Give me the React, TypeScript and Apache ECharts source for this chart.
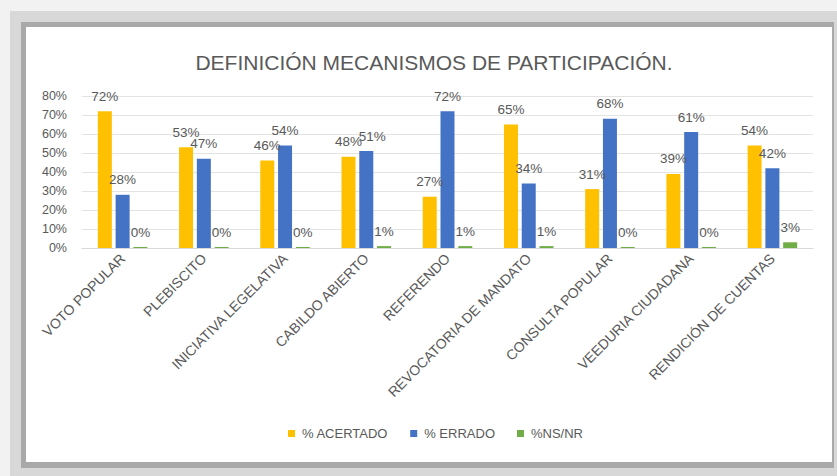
import React, { useEffect, useRef } from "react";
import * as echarts from "echarts";

const categories = [
  "VOTO POPULAR",
  "PLEBISCITO",
  "INICIATIVA LEGELATIVA",
  "CABILDO ABIERTO",
  "REFERENDO",
  "REVOCATORIA DE MANDATO",
  "CONSULTA POPULAR",
  "VEEDURIA CIUDADANA",
  "RENDICIÓN DE CUENTAS",
];
const acertado = [72, 53, 46, 48, 27, 65, 31, 39, 54];
const errado = [28, 47, 54, 51, 72, 34, 68, 61, 42];
const nsnr = [0, 0, 0, 1, 1, 1, 0, 0, 3];
const seriesNames = ["% ACERTADO", "% ERRADO", "%NS/NR"];
const yTicks = { min: 0, max: 80, interval: 10 };

const FONT = "'Liberation Sans', Arial, sans-serif";
const TXT = "#595959";

export default function App() {
  const ref = useRef<HTMLDivElement>(null);
  useEffect(() => {
    if (!ref.current) return;
    const chart = echarts.init(ref.current, null, { renderer: "svg" });
    const label = {
      show: true,
      position: "top" as const,
      distance: 8,
      color: TXT,
      fontSize: 13.5,
      fontFamily: FONT,
      formatter: (p: any) => `${Math.round(p.value)}%`,
    };
    // the reference nudges the crowded "51%" label to the right
    const erradoData = errado.map((v, i) =>
      i === 3 ? { value: v, label: { offset: [6, 0] } } : v
    );
    chart.setOption({
      animation: false,
      backgroundColor: "#f2f2f2",
      textStyle: { fontFamily: FONT },
      graphic: [
        { type: "rect", z: -10, shape: { x: 10, y: 11, width: 827, height: 465 }, style: { fill: "#d8d8d8" }, silent: true },
        { type: "rect", z: -9, shape: { x: 21, y: 22, width: 813, height: 446 }, style: { fill: "#a9a9a9" }, silent: true },
        { type: "rect", z: -8, shape: { x: 26, y: 27, width: 806, height: 435 }, style: { fill: "#ffffff" }, silent: true },
      ],
      title: {
        text: "DEFINICIÓN MECANISMOS DE PARTICIPACIÓN.",
        left: 429,
        textAlign: "center",
        top: 47,
        textStyle: { color: TXT, fontSize: 21, fontWeight: "normal", fontFamily: FONT },
      },
      legend: {
        bottom: 31,
        left: 283,
        orient: "horizontal",
        icon: "rect",
        itemWidth: 7,
        itemHeight: 7,
        itemGap: 22,
        textStyle: { color: TXT, fontSize: 13, fontFamily: FONT, padding: [0, 0, 0, 2] },
        data: seriesNames,
      },
      grid: { left: 82, right: 24, top: 96, bottom: 228, containLabel: false },
      xAxis: {
        type: "category",
        data: categories,
        axisLine: { lineStyle: { color: "#d9d9d9" } },
        axisTick: { show: false },
        axisLabel: { rotate: 45, interval: 0, color: TXT, fontSize: 14, fontFamily: FONT, margin: 8 },
      },
      yAxis: {
        type: "value",
        min: yTicks.min,
        max: yTicks.max,
        interval: yTicks.interval,
        axisLine: { show: false },
        axisTick: { show: false },
        splitLine: { lineStyle: { color: "#e3e3e3" } },
        axisLabel: { formatter: "{value}%", color: TXT, fontSize: 12.5, fontFamily: FONT, margin: 15 },
      },
      series: [
        { name: seriesNames[0], type: "bar", data: acertado, itemStyle: { color: "#FFC000" }, barGap: "27%", barCategoryGap: "39%", label },
        { name: seriesNames[1], type: "bar", data: erradoData, itemStyle: { color: "#4472C4" }, label },
        { name: seriesNames[2], type: "bar", data: nsnr, itemStyle: { color: "#70AD47" }, barMinHeight: 1, label },
      ],
    });
    return () => chart.dispose();
  }, []);
  return (
    <div
      ref={ref}
      style={{ position: "fixed", left: 0, top: 0, width: 837, height: 476 }}
    />
  );
}
